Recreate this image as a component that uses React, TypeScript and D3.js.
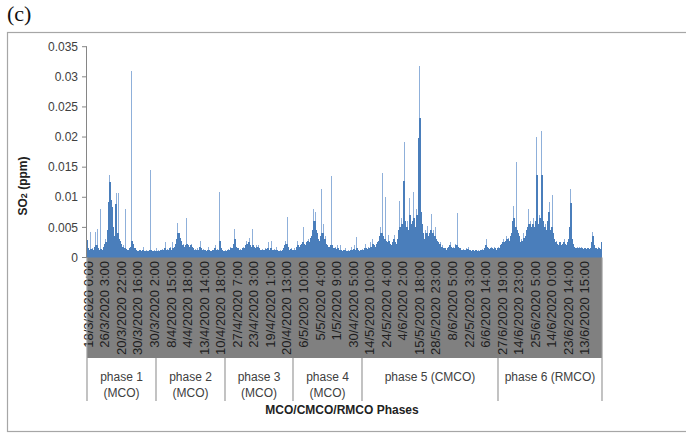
import React from "react";
import * as d3 from "d3";

// SO2 (ppm), one value per displayed column, grouped by phase
const phase1 = [0.0029,0.0015,0.0012,0.0043,0.0014,0.0016,0.0012,0.0018,0.0043,0.0020,0.0048,0.0015,0.0013,0.0080,0.0014,0.0012,0.0018,0.0022,0.0030,0.0025,0.0045,0.0092,0.0137,0.0126,0.0095,0.0084,0.0050,0.0035,0.0088,0.0107,0.0040,0.0107,0.0030,0.0028,0.0022,0.0018,0.0020,0.0015,0.0080,0.0014,0.0013,0.0012,0.0015,0.0018,0.0310,0.0027,0.0022,0.0016,0.0015,0.0012,0.0010,0.0011,0.0013,0.0012,0.0010,0.0013,0.0018,0.0011,0.0010,0.0012,0.0011,0.0010,0.0012,0.0145,0.0012,0.0010,0.0011,0.0012,0.0010];
const phase2 = [0.0015,0.0011,0.0012,0.0010,0.0013,0.0012,0.0014,0.0012,0.0016,0.0026,0.0013,0.0014,0.0012,0.0015,0.0017,0.0013,0.0025,0.0016,0.0018,0.0022,0.0030,0.0057,0.0040,0.0040,0.0032,0.0028,0.0020,0.0022,0.0018,0.0020,0.0065,0.0022,0.0020,0.0018,0.0021,0.0022,0.0018,0.0015,0.0013,0.0014,0.0012,0.0015,0.0013,0.0018,0.0027,0.0015,0.0012,0.0014,0.0012,0.0013,0.0011,0.0012,0.0017,0.0012,0.0010,0.0011,0.0013,0.0012,0.0015,0.0020,0.0012,0.0014,0.0013,0.0109,0.0027,0.0015,0.0012,0.0011,0.0010];
const phase3 = [0.0012,0.0011,0.0013,0.0014,0.0012,0.0018,0.0015,0.0016,0.0022,0.0047,0.0030,0.0018,0.0016,0.0015,0.0013,0.0014,0.0012,0.0015,0.0018,0.0016,0.0020,0.0028,0.0022,0.0025,0.0033,0.0020,0.0018,0.0047,0.0020,0.0018,0.0016,0.0020,0.0017,0.0020,0.0015,0.0013,0.0012,0.0014,0.0013,0.0012,0.0015,0.0014,0.0016,0.0025,0.0012,0.0015,0.0027,0.0013,0.0012,0.0014,0.0013,0.0018,0.0012,0.0011,0.0010,0.0012,0.0011,0.0013,0.0015,0.0020,0.0027,0.0022,0.0068,0.0018,0.0012,0.0014,0.0015,0.0012];
const phase4 = [0.0013,0.0015,0.0012,0.0018,0.0027,0.0020,0.0018,0.0020,0.0022,0.0025,0.0050,0.0022,0.0020,0.0025,0.0028,0.0030,0.0026,0.0032,0.0035,0.0045,0.0081,0.0060,0.0075,0.0045,0.0040,0.0030,0.0028,0.0035,0.0113,0.0040,0.0055,0.0030,0.0035,0.0022,0.0020,0.0018,0.0017,0.0020,0.0136,0.0020,0.0016,0.0015,0.0018,0.0014,0.0020,0.0015,0.0013,0.0020,0.0012,0.0011,0.0013,0.0012,0.0015,0.0011,0.0010,0.0012,0.0011,0.0013,0.0017,0.0012,0.0014,0.0020,0.0013,0.0034,0.0015,0.0012,0.0011,0.0013,0.0012];
const phase5 = [0.0014,0.0013,0.0015,0.0022,0.0016,0.0014,0.0018,0.0016,0.0025,0.0018,0.0030,0.0022,0.0020,0.0018,0.0022,0.0025,0.0028,0.0035,0.0050,0.0040,0.0141,0.0035,0.0030,0.0100,0.0028,0.0025,0.0037,0.0028,0.0022,0.0020,0.0025,0.0030,0.0037,0.0025,0.0022,0.0030,0.0045,0.0093,0.0050,0.0065,0.0055,0.0127,0.0192,0.0060,0.0050,0.0060,0.0045,0.0098,0.0070,0.0055,0.0060,0.0108,0.0065,0.0050,0.0080,0.0070,0.0198,0.0318,0.0231,0.0075,0.0055,0.0040,0.0030,0.0045,0.0040,0.0052,0.0035,0.0040,0.0045,0.0073,0.0040,0.0045,0.0035,0.0050,0.0030,0.0028,0.0025,0.0022,0.0025,0.0018,0.0020,0.0016,0.0015,0.0015,0.0013,0.0016,0.0018,0.0020,0.0025,0.0017,0.0015,0.0018,0.0016,0.0022,0.0020,0.0074,0.0018,0.0016,0.0015,0.0013,0.0012,0.0014,0.0012,0.0013,0.0015,0.0014,0.0017,0.0013,0.0012,0.0011,0.0013,0.0012,0.0011,0.0012,0.0013,0.0011,0.0012,0.0010,0.0013,0.0012,0.0014,0.0012,0.0015,0.0020,0.0030,0.0018,0.0015,0.0014,0.0016,0.0018,0.0015,0.0014,0.0017,0.0015,0.0013,0.0016];
const phase6 = [0.0018,0.0015,0.0020,0.0022,0.0025,0.0030,0.0025,0.0028,0.0035,0.0030,0.0033,0.0028,0.0035,0.0040,0.0060,0.0085,0.0065,0.0050,0.0159,0.0045,0.0040,0.0035,0.0025,0.0030,0.0028,0.0040,0.0032,0.0035,0.0045,0.0050,0.0081,0.0055,0.0060,0.0050,0.0055,0.0065,0.0050,0.0060,0.0200,0.0137,0.0055,0.0070,0.0065,0.0210,0.0137,0.0060,0.0050,0.0055,0.0045,0.0060,0.0075,0.0092,0.0045,0.0050,0.0103,0.0040,0.0030,0.0025,0.0028,0.0022,0.0020,0.0025,0.0025,0.0020,0.0022,0.0025,0.0030,0.0022,0.0020,0.0025,0.0030,0.0050,0.0113,0.0090,0.0030,0.0022,0.0018,0.0015,0.0016,0.0018,0.0015,0.0017,0.0016,0.0018,0.0015,0.0014,0.0016,0.0015,0.0014,0.0016,0.0016,0.0014,0.0015,0.0025,0.0042,0.0035,0.0020,0.0016,0.0015,0.0014,0.0018,0.0016,0.0014,0.0025];

const phaseSeries = [phase1, phase2, phase3, phase4, phase5, phase6];
const phaseLabels = [
  ["phase 1", "(MCO)"],
  ["phase 2", "(MCO)"],
  ["phase 3", "(MCO)"],
  ["phase 4", "(MCO)"],
  ["phase 5 (CMCO)"],
  ["phase 6 (RMCO)"],
];
const phaseHours = [336, 336, 336, 336, 672, 504];

const timeLabels = [
  "18/3/2020 0:00", "26/3/2020 3:00", "20/3/2020 22:00", "30/3/2020 16:00",
  "30/3/2020 2:00", "8/4/2020 15:00", "4/4/2020 18:00", "13/4/2020 14:00",
  "10/4/2020 18:00", "27/4/2020 7:00", "23/4/2020 3:00", "19/4/2020 1:00",
  "20/4/2020 13:00", "6/5/2020 10:00", "5/5/2020 4:00", "1/5/2020 9:00",
  "30/4/2020 5:00", "14/5/2020 10:00", "24/5/2020 4:00", "4/6/2020 2:00",
  "15/5/2020 18:00", "28/5/2020 23:00", "8/6/2020 5:00", "22/5/2020 3:00",
  "6/6/2020 14:00", "27/6/2020 19:00", "14/6/2020 23:00", "25/6/2020 5:00",
  "14/6/2020 0:00", "23/6/2020 14:00", "13/6/2020 15:00",
];
const labelStep = 81;
const yTicks = [0, 0.005, 0.01, 0.015, 0.02, 0.025, 0.03, 0.035];

const W = 686;
const H = 433;
const plotL = 87;
const plotR = 602;
const plotTop = 46.7;
const plotBottom = 257.5;
const bandBottom = 358;
const groupBottom = 401;

export default function App() {
  const values = phaseSeries.flat();
  const x = d3
    .scaleBand<number>()
    .domain(d3.range(values.length))
    .range([plotL, plotR])
    .paddingInner(0)
    .paddingOuter(0);
  const y = d3.scaleLinear().domain([0, 0.035]).range([plotBottom, plotTop]);
  const totalHours = d3.sum(phaseHours);
  const xh = d3.scaleLinear().domain([0, totalHours]).range([plotL, plotR]);

  const binStarts: number[] = [0];
  phaseSeries.forEach((s, i) => binStarts.push(binStarts[i] + s.length));
  const xEdge = (i: number) => (i >= values.length ? plotR : (x(i) as number));

  // dense (dark) part of each column: up to the higher neighbour
  const dense = values.map((v, i) => {
    const a = i > 0 ? values[i - 1] : v;
    const b = i < values.length - 1 ? values[i + 1] : v;
    return Math.min(v, Math.max(a, b));
  });

  const font = "'Liberation Sans', Arial, sans-serif";
  const fmt = (v: number) => (v === 0 ? "0" : String(+v.toFixed(3)));

  return (
    <svg width={W} height={H} style={{ position: "absolute", left: 0, top: 0, background: "#fff" }} fontFamily={font}>
      <text x={7} y={21} fontFamily="'Liberation Serif', 'Times New Roman', serif" fontSize={22} fill="#111">(c)</text>
      <rect x={7.5} y={32.5} width={700} height={399} fill="none" stroke="#a6a6a6" strokeWidth={1.2} />

      {/* bars: light spike tips, dark dense body */}
      <g shapeRendering="crispEdges">
        {values.map((v, i) => (
          <rect key={"l" + i} x={x(i)} y={y(v)} width={x.bandwidth() + 0.05} height={plotBottom - y(v)} fill="#8fb0da" />
        ))}
        {dense.map((v, i) => (
          <rect key={"d" + i} x={x(i)} y={y(v)} width={x.bandwidth() + 0.05} height={plotBottom - y(v)} fill="#4a7ebb" />
        ))}
      </g>

      {/* y axis */}
      <line x1={plotL - 0.5} x2={plotL - 0.5} y1={plotTop} y2={plotBottom} stroke="#868686" />
      {yTicks.map((t) => (
        <g key={t}>
          <line x1={plotL - 5} x2={plotL} y1={y(t)} y2={y(t)} stroke="#868686" />
          <text x={78} y={y(t)} dy="0.35em" textAnchor="end" fontSize={12} fill="#404040">{fmt(t)}</text>
        </g>
      ))}
      <text transform={`translate(27,186) rotate(-90)`} textAnchor="middle" fontSize={12} fontWeight="bold" fill="#222">
        SO<tspan fontSize={9}>2</tspan> (ppm)
      </text>

      {/* category band */}
      <rect x={plotL} y={plotBottom} width={plotR - plotL} height={bandBottom - plotBottom} fill="#808080" />
      {timeLabels.map((lab, k) => {
        const cx = xh(k * labelStep + 0.5) + 1;
        return (
          <text key={k} transform={`translate(${cx},${plotBottom + 3.5}) rotate(-90)`} dy="0.36em" textAnchor="end" fontSize={13} fill="#1e1e1e">
            {lab}
          </text>
        );
      })}

      {/* phase groups */}
      {binStarts.map((b, i) => (
        <line key={i} x1={xEdge(b)} x2={xEdge(b)} y1={i === 0 || i === binStarts.length - 1 ? plotBottom : bandBottom} y2={groupBottom} stroke="#9a9a9a" strokeWidth={1.2} />
      ))}
      {phaseLabels.map((lines, i) => {
        const cx = (xEdge(binStarts[i]) + xEdge(binStarts[i + 1])) / 2;
        return (
          <text key={i} x={cx} y={381} textAnchor="middle" fontSize={12} fill="#404040">
            {lines.map((l, j) => (
              <tspan key={j} x={cx} dy={j === 0 ? 0 : 16}>{l}</tspan>
            ))}
          </text>
        );
      })}
      <text x={342} y={414} textAnchor="middle" fontSize={12} fontWeight="bold" fill="#222">MCO/CMCO/RMCO Phases</text>
    </svg>
  );
}
